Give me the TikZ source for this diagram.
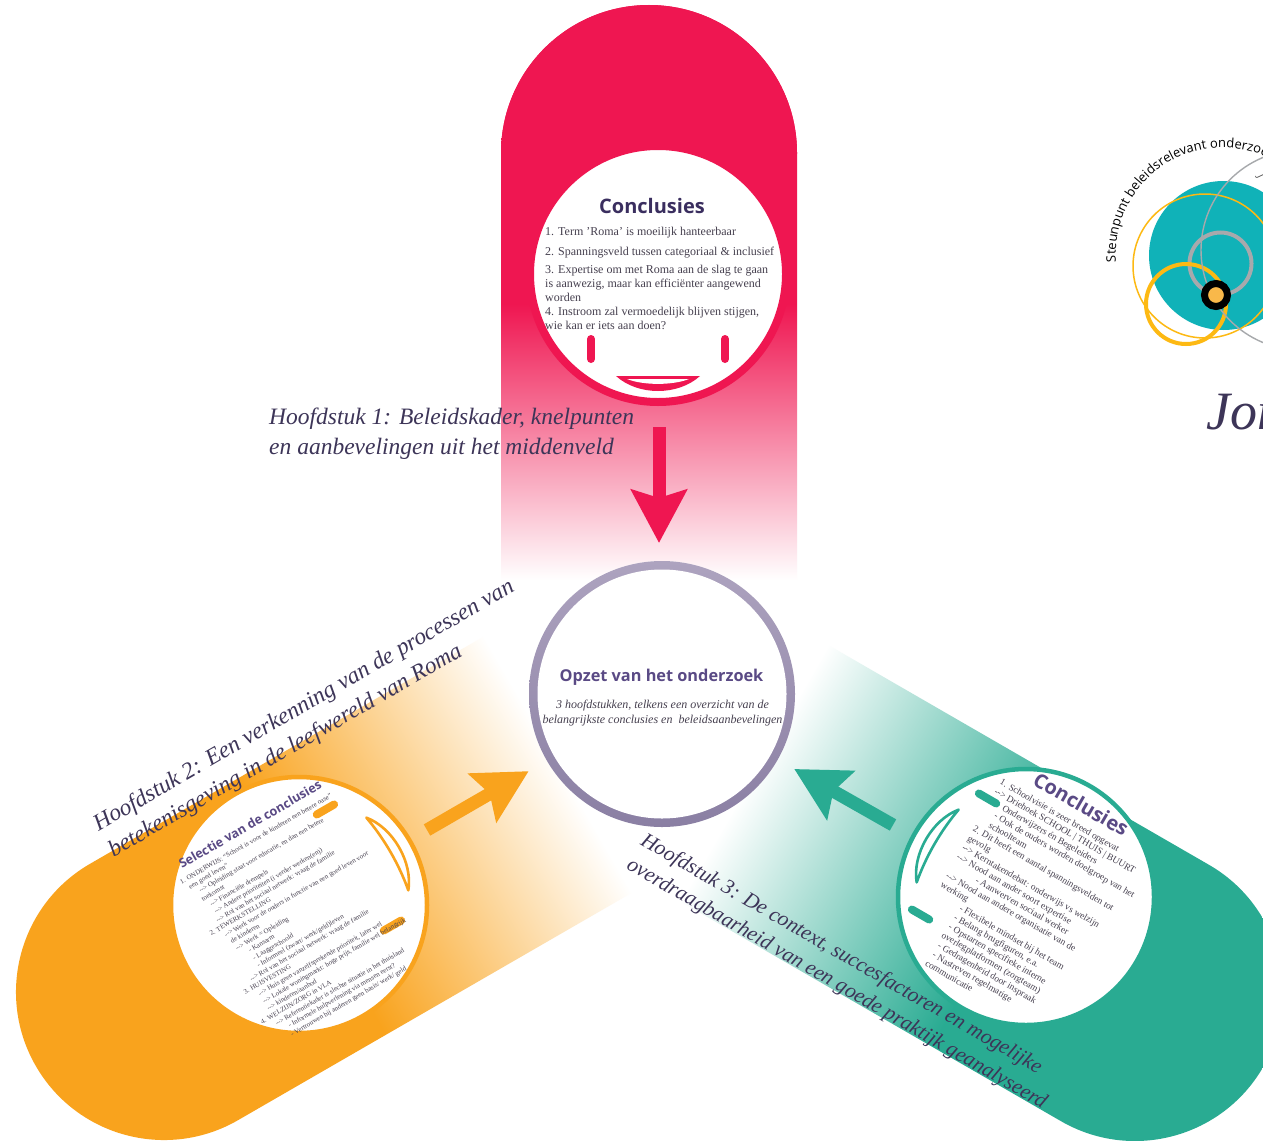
\documentclass[tikz,border=0pt]{standalone}
\usepackage{fontspec}
\usetikzlibrary{arrows.meta,decorations.text}
\setmainfont{Liberation Serif}
\newfontfamily\osans{Open Sans}
\definecolor{cred}{HTML}{EF1651}
\definecolor{corange}{HTML}{F9A31D}
\definecolor{cgreen}{HTML}{29AB92}
\definecolor{cink}{HTML}{3D3558}
\definecolor{ctitle}{HTML}{5A4A85}
\definecolor{cdark}{HTML}{3A2E5F}
\definecolor{cbody}{HTML}{46404F}
\definecolor{cteal}{HTML}{10B2B8}
\definecolor{cyel}{HTML}{FDB913}
\definecolor{cgrey}{HTML}{A7A9AC}
\definecolor{cringtop}{HTML}{ADA3BF}
\definecolor{cringbot}{HTML}{8A7FA3}
\definecolor{chole}{HTML}{F9B84A}
\pgfdeclarehorizontalshading{redfade}{100bp}{color(0bp)=(cred); color(51bp)=(cred); color(75bp)=(white); color(100bp)=(white)}
\pgfdeclarehorizontalshading{orangefade}{100bp}{color(0bp)=(corange); color(51.4bp)=(corange); color(75bp)=(white); color(100bp)=(white)}
\pgfdeclarehorizontalshading{greenfade}{100bp}{color(0bp)=(cgreen); color(50.3bp)=(cgreen); color(75bp)=(white); color(100bp)=(white)}
\newcommand\capsule[1]{(0,-148) arc[start angle=90,end angle=270,radius=148pt] -- (#1,148) -- (#1,-148) -- cycle}
\newcommand\arw{-{}->}
\newcommand\eyemarks[1]{%
  \draw[#1,line width=8pt,line cap=round] (-67,65) -- (-67,85);
  \draw[#1,line width=8pt,line cap=round] (67,65) -- (67,85);
}
\newcommand\mouthmark[2]{%
  \draw[#1,line width=2.6pt,line join=round] (-42,102) .. controls (-15,{102+#2}) and (15,{102+#2}) .. (42,102) .. controls (20,120) and (-20,120) .. cycle;
}
\tikzset{
  lens/.style={circle,fill=white,inner sep=0pt,outer sep=0pt,minimum size=#1},
  captiontext/.style={font=\itshape\fontsize{23.5}{30}\selectfont,text=cink,align=left,inner sep=0pt},
  titletext/.style={font=\osans\bfseries\fontsize{20}{24}\selectfont,text=ctitle,inner sep=0pt},
  bodytext/.style={text=cbody,align=left,inner sep=0pt},
  flow/.style={line width=13pt,-{Stealth[length=53pt,width=55pt,inset=8pt]}}
}
\begin{document}
\begin{tikzpicture}[x=1pt,y=-1pt]
\path[use as bounding box] (0,0) rectangle (1263,1140);
\clip (0,0) rectangle (1263,1140);
\fill[white] (0,0) rectangle (1263,1140);

% capsules
\shade[shading=redfade,transform canvas={shift={(649pt,-153pt)},rotate=-90}] \capsule{427};
\fill[cred] (649,153) circle[radius=148pt];
\shade[shading=orangefade,transform canvas={shift={(164pt,-992pt)},rotate=30}] \capsule{455};
\shade[shading=greenfade,transform canvas={shift={(1135pt,-993pt)},rotate=150}] \capsule{440};

% logo
\fill[cteal] (1223.5,255.5) circle[radius=74.5pt];
\draw[cyel,line width=1.5pt] (1205,266) circle[radius=72pt];
\draw[cgrey,line width=4pt] (1220.5,263.5) circle[radius=31pt];
\draw[cyel,line width=4pt] (1186,304) circle[radius=40pt];
\draw[cgrey,line width=1.4pt] (1301,250) circle[radius=100pt];
\draw[black,line width=7pt,fill=chole] (1216,295) circle[radius=11.5pt];
\path[decorate,decoration={text along path,text={|\osans\fontsize{13}{15}\selectfont|Steunpunt beleidsrelevant onderzoek}}]
  (1116,262) arc[start angle=184,end angle=30,radius=107pt];
\node[font=\osans\fontsize{10}{12}\selectfont,text=black!70,rotate=-65,inner sep=0pt] (logoj) at (1260,177) {J};
\node[anchor=base west,inner sep=0pt,font=\itshape\fontsize{54}{60}\selectfont,text=cink] (logoname) at (1206,429) {Jon};

% lenses
\node[lens=256pt,draw=cred,line width=8pt] (redlens) at (658,274) {};
\node[lens=256pt,draw=corange,line width=4.5pt] (orangelens) at (299,905) {};
\node[lens=256pt,draw=cgreen,line width=4.5pt] (greenlens) at (1026,897) {};
\begin{scope}[shift={(658,274)}]
\eyemarks{cred}
\fill[cred] (-42,102) -- (42,102) .. controls (20,122) and (-20,122) .. cycle;
\fill[white] (-31,105) -- (31,105) .. controls (15,111.5) and (-15,111.5) .. cycle;
\end{scope}
\begin{scope}[shift={(294,905)},rotate=120]\eyemarks{corange}\end{scope}
\begin{scope}[shift={(299,905)},rotate=120]\mouthmark{corange}{5}\end{scope}
\begin{scope}[shift={(1019,894)},rotate=-120]\eyemarks{cgreen}\end{scope}
\begin{scope}[shift={(1026,897)},rotate=-120]\mouthmark{cgreen}{5}\end{scope}

% hub
\node[lens=266pt,top color=cringtop,bottom color=cringbot] (hubring) at (662,694) {};
\node[lens=249pt] (hub) at (662,694) {};

% arrows
\coordinate (redtail) at (659,427);
\coordinate (orangetail) at (427,830);
\coordinate (greentail) at (893,825);
\draw[flow,cred,shorten >=18pt] (redtail) -- (redtail |- hubring.north);
\draw[flow,corange,shorten >=21pt] (orangetail) -- (hubring);
\draw[flow,cgreen,shorten >=19pt] (greentail) -- (hubring);

% hub text
\node[titletext,font=\osans\bfseries\fontsize{16.3}{19}\selectfont] (hubtitle) at (661.5,677.5) {Opzet van het onderzoek};
\node[bodytext,align=center,font=\itshape\fontsize{12}{15}\selectfont] (hubbody) at (662.5,713) {3 hoofdstukken, telkens een overzicht van de\\belangrijkste conclusies en~~beleidsaanbevelingen};

% red text
\node[titletext,text=cdark] (redtitle) at (652,206) {Conclusies};
\node[bodytext,anchor=north west,font=\fontsize{12}{14}\selectfont] (redbody) at (545,227) {1. Term 'Roma' is moeilijk hanteerbaar\\[6pt]
2. Spanningsveld tussen categoriaal \& inclusief\\[4pt]
3. Expertise om met Roma aan de slag te gaan\\
is aanwezig, maar kan efficiënter aangewend\\
worden\\
4. Instroom zal vermoedelijk blijven stijgen,\\
wie kan er iets aan doen?};

% orange text
\node[titletext,anchor=base west,rotate=30,font=\osans\bfseries\fontsize{12.6}{15}\selectfont] (orangetitle) at (182,869) {Selectie van de conclusies};
\node[bodytext,anchor=north west,rotate=30,font=\fontsize{6.9}{8.5}\selectfont] (orangebody) at (179,880) {1. ONDERWIJS: ``School is voor de kinderen een betere oase''\\
\hspace*{5pt}een goed leven''\\
\hspace*{12pt}\arw{} Opleiding staat voor educatie, en dan een betere\\
\hspace*{10pt}toekomst\\
\hspace*{15pt}\arw{} Financiële drempels\\
\hspace*{15pt}\arw{} Andere prioriteiten (i verder werken(en))\\
\hspace*{12pt}\arw{} Rol van het sociaal netwerk: vraag de familie\\
2. TEWERKSTELLING\\
\hspace*{12pt}\arw{} Werk voor de ouders in functie van een goed leven voor\\
\hspace*{14pt}de kinderen\\
\hspace*{15pt}\arw{} Werk = Opleiding\\
\hspace*{25pt}- Kansarm\\
\hspace*{25pt}- Laaggeschoold\\
\hspace*{25pt}- Informeel (zwart/ werk/geld)leven\\
\hspace*{12pt}\arw{} Rol van het sociaal netwerk: vraag de familie\\
3. HUISVESTING\\
\hspace*{12pt}\arw{} Huis geen vanzelfsprekende prioriteit, later wel\\
\hspace*{12pt}\arw{} Lokale woningmarkt: hoge prijs, familie wel belangrijk\\
\hspace*{12pt}\arw{} kinderen/aanbod\\
4. WELZIJN/ZORG in VLA\\
\hspace*{12pt}\arw{} Referentiekader is slechte situatie in het thuisland\\
\hspace*{22pt}- Informele hulpverlening via mensen eerst?\\
\hspace*{20pt}- Vertrouwen bij anderen geen basis/ werk/ geld};

% green text
\node[titletext,anchor=base west,rotate=-30,font=\osans\bfseries\fontsize{20}{24}\selectfont] (greentitle) at (1031.5,784) {Conclusies};
\node[bodytext,anchor=north west,rotate=-30,font=\fontsize{9.4}{10.8}\selectfont] (greenbody) at (1002.5,778) {1. Schoolvisie is zeer breed opgevat\\
\arw{} Driehoek SCHOOL | THUIS | BUURT\\
\hspace*{15pt}Onderwijzers én Begeleiders\\
\hspace*{12pt}- Ook de ouders worden doelgroep van het\\
\hspace*{12pt}schoolteam\\
2. Dit heeft een aantal spanningsvelden tot\\
gevolg\\
\arw{} Kerntakendebat: onderwijs vs welzijn\\
\arw{} Nood aan ander soort expertise\\
\hspace*{28pt}- Aanwerven sociaal werker\\
\arw{} Nood aan andere organisatie van de\\
werking\\
\hspace*{28pt}- Flexibele mindset bij het team\\
\hspace*{28pt}- Belang brugfiguren, e.a.\\
\hspace*{28pt}- Opstarten specifieke interne\\
\hspace*{26pt}overlegplatformen (zorgteam)\\
\hspace*{28pt}- Gedragenheid door inspraak\\
\hspace*{28pt}- Nastreven regelmatige\\
\hspace*{26pt}communicatie};

% captions
\node[captiontext,anchor=base west] (caption1) at (269,454) {Hoofdstuk 1: Beleidskader, knelpunten\\en aanbevelingen uit het middenveld};
\node[captiontext,anchor=south west,rotate=30,font=\itshape\fontsize{23.4}{30}\selectfont] (caption2) at (116,862) {Hoofdstuk 2: Een verkenning van de processen van\\betekenisgeving in de leefwereld van Roma};
\node[captiontext,anchor=north west,rotate=-30,font=\itshape\fontsize{21.3}{28}\selectfont] (caption3) at (647,831) {Hoofdstuk 3: De context, succesfactoren en mogelijke\\overdraagbaarheid van een goede praktijk geanalyseerd};
\end{tikzpicture}
\end{document}
